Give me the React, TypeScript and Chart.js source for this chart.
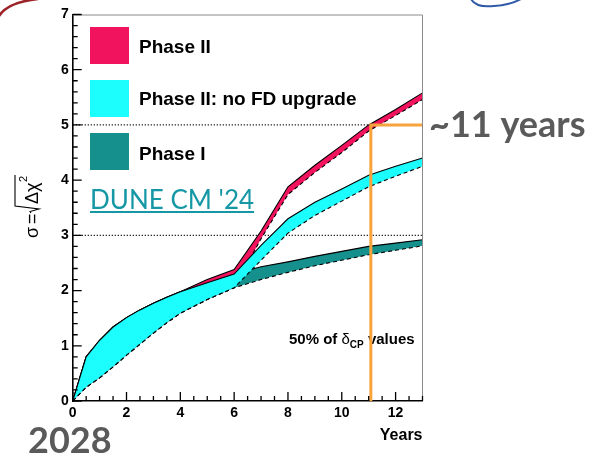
import React, { useEffect, useRef } from "react";
import { Chart, registerables } from "chart.js";
Chart.register(...registerables);

// ---- data ----
const YEARS = [0, 0.5, 1, 1.5, 2, 2.5, 3, 3.5, 4, 5, 6, 7, 8, 9, 10, 11, 12, 13];
const PHASE2_UPPER = [0, 0.8, 1.1, 1.34, 1.51, 1.65, 1.77, 1.88, 1.98, 2.2, 2.38, 3.08, 3.88, 4.27, 4.63, 5.0, 5.28, 5.58];
const PHASE2_LOWER = [0, 0.25, 0.42, 0.62, 0.83, 1.03, 1.23, 1.42, 1.59, 1.84, 2.05, 2.94, 3.74, 4.14, 4.5, 4.89, 5.17, 5.46];
const NOFD_UPPER = [0, 0.8, 1.1, 1.34, 1.51, 1.65, 1.77, 1.88, 1.98, 2.14, 2.3, 2.82, 3.3, 3.6, 3.84, 4.09, 4.25, 4.4];
const NOFD_LOWER = [0, 0.25, 0.42, 0.62, 0.83, 1.03, 1.23, 1.42, 1.59, 1.84, 2.05, 2.55, 3.04, 3.36, 3.62, 3.88, 4.07, 4.25];
const PHASE1_UPPER = [0, 0.8, 1.1, 1.34, 1.51, 1.65, 1.77, 1.88, 1.98, 2.14, 2.3, 2.43, 2.52, 2.62, 2.71, 2.8, 2.86, 2.92];
const PHASE1_LOWER = [0, 0.25, 0.42, 0.62, 0.83, 1.03, 1.23, 1.42, 1.59, 1.84, 2.05, 2.2, 2.33, 2.45, 2.55, 2.65, 2.73, 2.81];

const X_TICKS = [0, 2, 4, 6, 8, 10, 12];
const Y_TICKS = [0, 1, 2, 3, 4, 5, 6, 7];
const SIGMA_LINES = [3, 5];
const CROSS_YEAR = 11.08;
const CROSS_SIGMA = 5;
const X_MAX = 13;
const Y_MAX = 7;

const LEGEND_LABELS = ["Phase II", "Phase II: no FD upgrade", "Phase I"];
const RED = "#f2135f";
const CYAN = "#1cfdfd";
const TEAL = "#16908d";
const ORANGE = "#f8a33b";
const LEGEND_COLORS = [RED, CYAN, TEAL];

const pts = (ys: number[]) => YEARS.map((x, i) => ({ x, y: ys[i] }));
const SANS = "'Liberation Sans', Arial, sans-serif";

export default function App() {
  const ref = useRef<HTMLCanvasElement>(null);
  useEffect(() => {
    document.body.style.margin = "0";
    const canvas = ref.current!;
    const band = (data: any, color: string, dashed: boolean, fill: any, order: number) => ({
      data,
      borderColor: "#000",
      borderWidth: 1.1,
      borderDash: dashed ? [4, 3] : [],
      backgroundColor: color,
      fill,
      pointRadius: 0,
      tension: 0,
      order,
    });
    const datasets: any[] = [
      band(pts(NOFD_LOWER), CYAN, true, false, 1),
      band(pts(NOFD_UPPER), CYAN, false, "-1", 2),
      band(pts(PHASE2_LOWER), RED, true, false, 3),
      band(pts(PHASE2_UPPER), RED, false, "-1", 4),
      band(pts(PHASE1_LOWER), TEAL, true, false, 5),
      band(pts(PHASE1_UPPER), TEAL, false, "-1", 6),
      ...SIGMA_LINES.map((s, i) => ({
        data: [{ x: 0, y: s }, { x: X_MAX, y: s }],
        borderColor: "#111",
        borderWidth: 1.2,
        borderDash: [1.2, 1.8],
        pointRadius: 0,
        fill: false,
        order: 7 + i,
      })),
      {
        data: [{ x: CROSS_YEAR, y: 0 }, { x: CROSS_YEAR, y: CROSS_SIGMA }, { x: X_MAX, y: CROSS_SIGMA }],
        borderColor: ORANGE,
        borderWidth: 3,
        pointRadius: 0,
        fill: false,
        order: 0,
      },
    ];

    const deco = {
      id: "deco",
      beforeDatasetsDraw(chart: any) {
        const c = chart.ctx;
        c.save();
        // legend
        const boxY = [27, 80, 133];
        const baseY = [52.5, 104.5, 159.5];
        LEGEND_LABELS.forEach((lab, i) => {
          c.fillStyle = LEGEND_COLORS[i];
          c.fillRect(90, boxY[i], 39, 37);
          c.fillStyle = "#000";
          c.font = `bold 19px ${SANS}`;
          c.textAlign = "left";
          c.textBaseline = "alphabetic";
          c.fillText(lab, 139, baseY[i]);
        });
        // note
        let x = 289;
        const by = 344;
        c.font = `bold 15px ${SANS}`;
        c.fillText("50% of ", x, by);
        x += c.measureText("50% of ").width;
        c.font = `15px ${SANS}`;
        c.fillText("δ", x, by);
        x += c.measureText("δ").width;
        c.font = `bold 10px ${SANS}`;
        c.fillText("CP", x, by + 4);
        x += c.measureText("CP").width;
        c.font = `bold 15px ${SANS}`;
        c.fillText(" values", x, by);
        // DUNE CM '24
        c.font = "26px Lato, sans-serif";
        c.fillStyle = "#1597a5";
        c.fillText("DUNE CM '24", 90, 209);
        const w = c.measureText("DUNE CM '24").width;
        c.fillRect(90, 211, w, 2);
        c.restore();
      },
      afterDraw(chart: any) {
        const c = chart.ctx;
        const { left, right, top, bottom } = chart.chartArea;
        const xs = chart.scales.x;
        const ys = chart.scales.y;
        c.save();
        // frame top/right
        c.strokeStyle = "#8a8a8a";
        c.lineWidth = 1;
        c.beginPath();
        c.moveTo(left, top + 0.5);
        c.lineTo(right, top + 0.5);
        c.lineTo(right, bottom);
        c.stroke();
        // inward ticks
        c.strokeStyle = "#000";
        c.lineWidth = 1.3;
        c.beginPath();
        for (let i = 0; i <= Y_MAX * 5; i++) {
          const p = ys.getPixelForValue(i / 5);
          const len = i % 5 === 0 ? 9 : 5;
          c.moveTo(left, p);
          c.lineTo(left + len, p);
        }
        for (let i = 0; i <= X_MAX * 2; i++) {
          const v = i / 2;
          const p = xs.getPixelForValue(v);
          const len = v % 2 === 0 ? 9 : 5;
          c.moveTo(p, bottom);
          c.lineTo(p, bottom - len);
        }
        c.stroke();
        // Years
        c.fillStyle = "#000";
        c.font = `bold 16px ${SANS}`;
        c.textAlign = "right";
        c.textBaseline = "alphabetic";
        c.fillText("Years", right, 440);
        // y title
        c.save();
        c.translate(38, 238);
        c.rotate(-Math.PI / 2);
        c.textAlign = "left";
        c.font = `18px ${SANS}`;
        c.fillText("σ", 0, 0);
        c.fillText("=", 14, 0);
        const r0 = 25;
        c.lineWidth = 1.1;
        c.beginPath();
        c.moveTo(r0, -7);
        c.lineTo(r0 + 1.5, -8);
        c.lineTo(r0 + 4, 1);
        c.lineTo(r0 + 7, -23);
        c.lineTo(r0 + 38, -23);
        c.stroke();
        c.fillText("Δχ", r0 + 9, 0);
        const dw = c.measureText("Δχ").width;
        c.font = `11px ${SANS}`;
        c.fillText("2", r0 + 9 + dw + 0.5, -11);
        c.restore();
        // outer annotations
        c.fillStyle = "#5a5a5a";
        c.textAlign = "left";
        c.font = "bold 36px Lato, sans-serif";
        c.fillText("~11 years", 429, 137);
        c.font = "bold 36px Lato, sans-serif";
        c.fillText("2028", 28, 453);
        // decorative arcs
        c.lineWidth = 2.5;
        c.strokeStyle = "#9b2226";
        c.beginPath();
        c.moveTo(-1, 16);
        c.quadraticCurveTo(8, 2, 38, -1);
        c.stroke();
        c.lineWidth = 2;
        c.strokeStyle = "#2f5aa8";
        c.beginPath();
        c.moveTo(471, -1);
        c.quadraticCurveTo(476, 8, 494, 6);
        c.quadraticCurveTo(510, 5, 521, -1);
        c.stroke();
        c.restore();
      },
    };

    const chart = new Chart(canvas, {
      type: "line",
      data: { datasets },
      plugins: [deco],
      options: {
        animation: false,
        responsive: false,
        devicePixelRatio: 1,
        layout: { padding: { left: 0, right: 169.5, top: 14.5, bottom: 0 } },
        plugins: { legend: { display: false }, tooltip: { enabled: false } },
        scales: {
          x: {
            type: "linear",
            min: 0,
            max: X_MAX,
            grid: { display: false, drawTicks: false },
            border: { display: true, color: "#000", width: 1.6 },
            ticks: { font: { family: SANS, weight: "bold", size: 14 }, color: "#000", padding: 4, maxRotation: 0 },
            afterBuildTicks: (s: any) => { s.ticks = X_TICKS.map((v) => ({ value: v })); },
            afterFit: (s: any) => { s.height = 56; },
          },
          y: {
            type: "linear",
            min: 0,
            max: Y_MAX,
            grid: { display: false, drawTicks: false },
            border: { display: true, color: "#000", width: 1.6 },
            ticks: { font: { family: SANS, weight: "bold", size: 14 }, color: "#000", padding: 4 },
            afterBuildTicks: (s: any) => { s.ticks = Y_TICKS.map((v) => ({ value: v })); },
            afterFit: (s: any) => { s.width = 72.7; },
          },
        },
      } as any,
    });
    return () => chart.destroy();
  }, []);
  return <canvas ref={ref} width={592} height={457} style={{ display: "block" }} />;
}
